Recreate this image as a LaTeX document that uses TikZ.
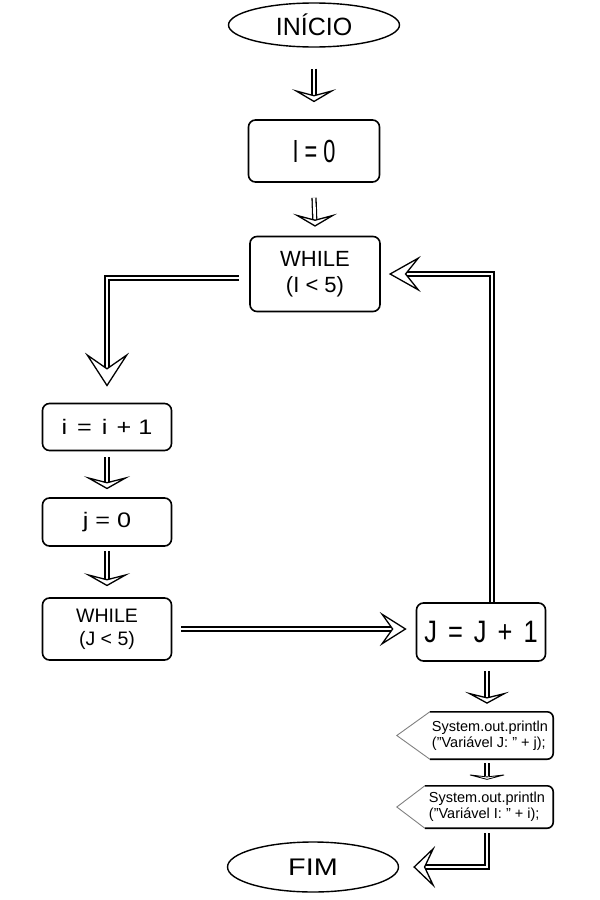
\documentclass[tikz,border=0pt]{standalone}
\usepackage{fontspec}
\setmainfont{Liberation Sans}
\newfontfamily\condfont[FakeStretch=0.68]{Liberation Sans}
\newfontfamily\jfont[FakeStretch=0.82]{Liberation Sans}
\newfontfamily\widefont[FakeStretch=1.2]{Liberation Sans}
\newfontfamily\fimfont[FakeStretch=1.2]{Liberation Sans}
\usetikzlibrary{shapes.geometric,arrows.meta}
\begin{document}
\begin{tikzpicture}[x=1pt,y=-1pt,
  box/.style={draw, line width=1.6pt, rounded corners=7pt, inner sep=0pt, align=center},
  oval/.style={draw, ellipse, line width=1.4pt, inner sep=0pt},
  shaft/.style={double, double distance=2.6pt, line width=1.3pt},
  tip/.style 2 args={white, line width=0.2pt,
     -{Stealth[color=black, fill=white, line width=1.3pt, length=#1, width=#2, inset=0.45*#1]}},
  slab/.style={align=left, font=\fontsize{14.5}{16}\selectfont, inner sep=0pt}
]
\useasboundingbox (0,0) rectangle (600,900);

\node[oval, minimum width=171pt, minimum height=44pt, font=\fontsize{25}{26}\selectfont] (ini) at (314,25) {INÍCIO};
\node[box, minimum width=131pt, minimum height=62pt, font=\condfont\fontsize{32}{34}\selectfont] (i0) at (314,151) {I = 0};
\node[box, minimum width=130pt, minimum height=75pt, font=\fontsize{22}{26}\selectfont] (w1) at (315,274) {WHILE\\(I < 5)};
\node[box, minimum width=129pt, minimum height=47pt, font=\widefont\fontsize{21}{24}\selectfont] (inc) at (107,427) {i\hspace{3pt} = \hspace{3pt}i\hspace{2pt} + \hspace{0pt}1};
\node[box, minimum width=129pt, minimum height=48pt, font=\widefont\fontsize{21}{24}\selectfont] (j0) at (107,522) {j = 0};
\node[box, minimum width=129pt, minimum height=62pt, font=\fontsize{19.5}{23}\selectfont] (w2) at (107,629) {WHILE\\(J < 5)};
\node[box, minimum width=129pt, minimum height=58pt, font=\jfont\fontsize{31}{33}\selectfont] (jj) at (481,632) {J\hspace{4pt} = \hspace{4pt}J\hspace{4pt} + \hspace{4pt}1};
\node[minimum width=156pt, minimum height=47pt, inner sep=0pt] (p1) at (475,735.5) {};
\node[slab] (t1) at (490,735.5) {System.out.println\\("Variável J: " + j);};
\node[minimum width=156pt, minimum height=42pt, inner sep=0pt] (p2) at (475,807) {};
\node[slab] (t2) at (487,807) {System.out.println\\("Variável I: " + i);};
\node[oval, minimum width=171pt, minimum height=50pt, font=\fimfont\fontsize{24}{26}\selectfont] (fim) at (313,867) {FIM};

% print shapes
\draw[line width=1.6pt, rounded corners=6pt] ([xshift=33pt]p1.north west) -- (p1.north east) -- (p1.south east) -- ([xshift=33pt]p1.south west);
\draw[gray, line width=0.9pt] ([xshift=33pt]p1.north west) -- (p1.west) -- ([xshift=33pt]p1.south west);
\draw[line width=1.6pt, rounded corners=6pt] ([xshift=28pt]p2.north west) -- (p2.north east) -- (p2.south east) -- ([xshift=28pt]p2.south west);
\draw[gray, line width=0.9pt] ([xshift=28pt]p2.north west) -- (p2.west) -- ([xshift=28pt]p2.south west);

% arrows: double shafts
\draw[shaft, shorten >=7pt] ([yshift=-21pt]ini.south) -- ([yshift=17pt]i0.north);
\draw[shaft, shorten >=7pt] ([yshift=-15pt]i0.south) -- ([yshift=9pt]w1.north);
\draw[shaft, shorten >=19pt] ([xshift=-10pt,yshift=-4pt]w1.west) -| ([yshift=16pt]inc.north);
\draw[shaft, shorten >=7pt] ([yshift=-6pt]inc.south) -- ([yshift=8pt]j0.north);
\draw[shaft, shorten >=7pt] ([yshift=-4pt]j0.south) -- ([yshift=11pt]w2.north);
\draw[shaft, shorten >=15pt] ([xshift=9pt]w2.east) -- ([xshift=-9pt]w2.east -| jj.west);
\draw[shaft, shorten >=18pt] ([xshift=11pt]jj.north) |- ([xshift=8pt]w1.east);
\draw[shaft, shorten >=7pt] ([xshift=6pt,yshift=-9pt]jj.south) -- ([xshift=12pt,yshift=8pt]p1.north);
\draw[shaft, shorten >=3.5pt] ([xshift=12pt,yshift=-4pt]p1.south) -- ([xshift=12pt,yshift=6pt]p2.north);
\draw[shaft, shorten >=12pt] ([xshift=12pt,yshift=-5pt]p2.south) |- ([xshift=14pt]fim.east);

% arrows: hollow heads
\draw[tip={13pt}{44pt}] ([yshift=37pt]i0.north) -- ([yshift=17pt]i0.north);
\draw[tip={13pt}{44pt}] ([yshift=29pt]w1.north) -- ([yshift=9pt]w1.north);
\draw[tip={34pt}{44pt}] ([yshift=56pt]inc.north) -- ([yshift=16pt]inc.north);
\draw[tip={13pt}{46pt}] ([yshift=28pt]j0.north) -- ([yshift=8pt]j0.north);
\draw[tip={13pt}{46pt}] ([yshift=31pt]w2.north) -- ([yshift=11pt]w2.north);
\draw[tip={27pt}{34pt}] ([xshift=-49pt]w2.east -| jj.west) -- ([xshift=-9pt]w2.east -| jj.west);
\draw[tip={32pt}{36pt}] ([xshift=48pt]w1.east) -- ([xshift=8pt]w1.east);
\draw[tip={12pt}{44pt}] ([xshift=12pt,yshift=28pt]p1.north) -- ([xshift=12pt,yshift=8pt]p1.north);
\draw[tip={6pt}{46pt}] ([xshift=12pt,yshift=16pt]p2.north) -- ([xshift=12pt,yshift=6pt]p2.north);
\draw[tip={22pt}{42pt}] ([xshift=44pt]fim.east) -- ([xshift=14pt]fim.east);
\end{tikzpicture}
\end{document}
